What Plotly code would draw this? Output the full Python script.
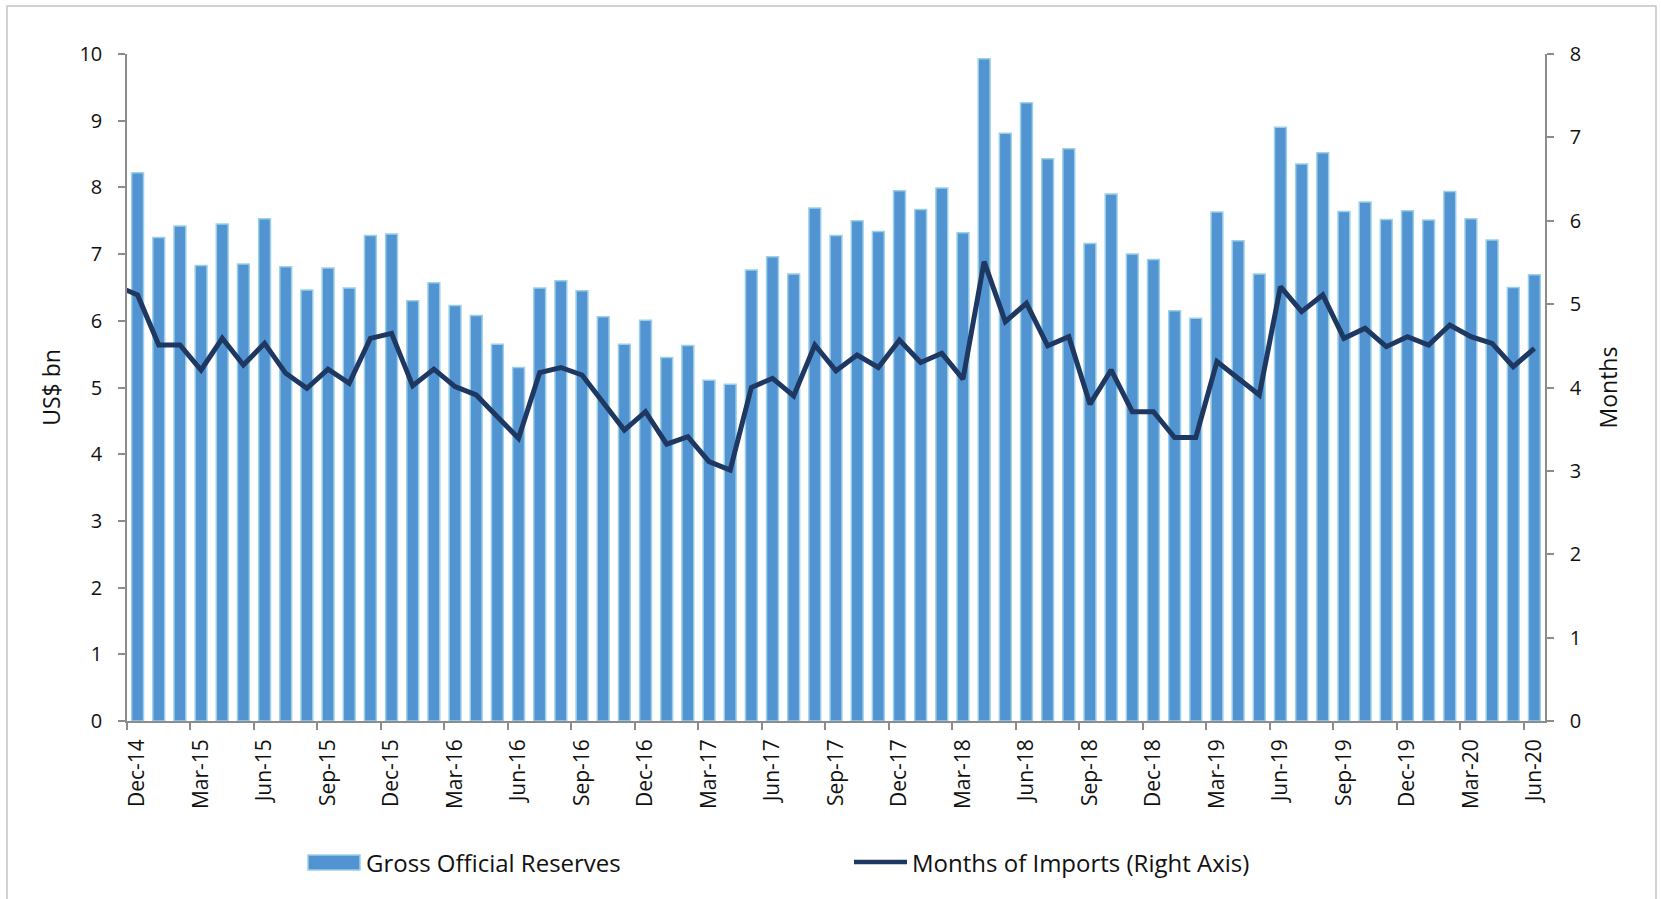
import pandas as pd
import plotly.graph_objects as go

# ---------------- data ----------------
months = [d.strftime("%b-%y") for d in pd.date_range("2014-12-01", "2020-06-01", freq="MS")]

reserves = [8.22, 7.25, 7.42, 6.83, 7.45, 6.85, 7.53, 6.81, 6.46, 6.79, 6.49, 7.28,
            7.30, 6.30, 6.57, 6.23, 6.08, 5.65, 5.30, 6.49, 6.60, 6.45, 6.06, 5.65,
            6.01, 5.45, 5.63, 5.11, 5.05, 6.76, 6.96, 6.70, 7.69, 7.28, 7.50, 7.34,
            7.95, 7.67, 7.99, 7.32, 9.93, 8.81, 9.27, 8.43, 8.58, 7.16, 7.90, 7.00,
            6.92, 6.15, 6.04, 7.63, 7.20, 6.70, 8.90, 8.35, 8.52, 7.64, 7.78, 7.52,
            7.65, 7.51, 7.94, 7.53, 7.21, 6.50, 6.69]

# import cover; first value is Nov-14 (just left of the visible axis)
import_months_prev = 5.22
import_months = [5.11, 4.51, 4.51, 4.21, 4.59, 4.27, 4.53, 4.17, 3.99, 4.22, 4.05, 4.59,
                 4.65, 4.02, 4.22, 4.01, 3.91, 3.65, 3.39, 4.18, 4.24, 4.15, 3.81, 3.49,
                 3.71, 3.32, 3.41, 3.11, 3.01, 4.00, 4.11, 3.90, 4.51, 4.20, 4.39, 4.24,
                 4.57, 4.30, 4.41, 4.10, 5.51, 4.79, 5.01, 4.50, 4.61, 3.80, 4.21, 3.71,
                 3.71, 3.40, 3.40, 4.31, 4.11, 3.91, 5.21, 4.91, 5.11, 4.59, 4.71, 4.49,
                 4.61, 4.51, 4.75, 4.61, 4.53, 4.25, 4.47]

label_step = 3
tick_idx = list(range(0, len(months), label_step))
tick_text = [months[i] for i in tick_idx]

# ---------------- style ----------------
W, H = 1661, 899
ML, MR, MT, MB = 127, 116, 54, 178
PW, PH = W - ML - MR, H - MT - MB
FONT = "Open Sans"
BAR_FILL = "#5294D2"
BAR_EDGE = "#9CD0E6"
LINE_COL = "#1F3862"
AXIS_COL = "#8C8C8C"
TICK_SIZE = 20


def px_x(p):
    return (p - ML) / PW


def px_y(p):
    return (H - MB - p) / PH


x_bar = list(range(len(months)))
x_line = [-1] + x_bar
y_line = [import_months_prev] + import_months

fig = go.Figure()
fig.add_trace(go.Bar(
    x=x_bar, y=reserves, name="Gross Official Reserves",
    marker=dict(color=BAR_FILL, line=dict(color=BAR_EDGE, width=1.5)),
    yaxis="y", showlegend=False,
))
fig.add_trace(go.Scatter(
    x=x_line, y=y_line, name="Months of Imports (Right Axis)", mode="lines",
    line=dict(color=LINE_COL, width=5), yaxis="y2", showlegend=False,
))

fig.update_layout(
    width=W, height=H,
    margin=dict(l=ML, r=MR, t=MT, b=MB, autoexpand=False),
    paper_bgcolor="white", plot_bgcolor="white",
    font=dict(family=FONT, size=TICK_SIZE, color="#111111"),
    bargap=0.44,
    xaxis=dict(
        range=[-0.5, len(months) - 0.5],
        tickmode="array", tickvals=tick_idx, ticktext=tick_text,
        tickangle=-90, ticks="", ticklabelstandoff=8,
        showline=True, linecolor=AXIS_COL, linewidth=1.5,
        showgrid=False, zeroline=False,
        minor=dict(ticks="outside", tickmode="linear", tick0=-0.5, dtick=label_step,
                   ticklen=7, tickwidth=1.5, tickcolor=AXIS_COL, showgrid=False),
        tickfont=dict(size=21),
    ),
    yaxis=dict(
        range=[0, 10], dtick=1, ticks="outside", ticklen=7, tickwidth=1.5,
        tickcolor=AXIS_COL, showline=True, linecolor=AXIS_COL, linewidth=1.5,
        showgrid=False, zeroline=False, ticklabelstandoff=12,
        title=dict(text="US$ bn", font=dict(size=23), standoff=12),
        tickfont=dict(size=TICK_SIZE),
    ),
    yaxis2=dict(
        range=[0, 8], dtick=1, overlaying="y", side="right",
        ticks="outside", ticklen=7, tickwidth=1.5, tickcolor=AXIS_COL,
        showline=True, linecolor=AXIS_COL, linewidth=1.5,
        showgrid=False, zeroline=False, ticklabelstandoff=12,
        title=dict(text="Months", font=dict(size=23), standoff=20),
        tickfont=dict(size=TICK_SIZE),
    ),
)

# outer chart frame
fig.add_shape(type="rect", xref="paper", yref="paper",
              x0=px_x(7), x1=px_x(1656), y0=px_y(910), y1=px_y(6),
              line=dict(color="#C4C4C4", width=1.5), fillcolor="rgba(0,0,0,0)", layer="below")

# legend (drawn below the plot)
leg_y = 862
fig.add_shape(type="rect", xref="paper", yref="paper",
              x0=px_x(308), x1=px_x(360), y0=px_y(870), y1=px_y(855),
              fillcolor=BAR_FILL, line=dict(color=BAR_EDGE, width=1.5))
fig.add_annotation(xref="paper", yref="paper", x=px_x(364), y=px_y(leg_y),
                   text="Gross Official Reserves", showarrow=False,
                   xanchor="left", yanchor="middle", font=dict(size=24, color="#111111"))
fig.add_shape(type="line", xref="paper", yref="paper",
              x0=px_x(854), x1=px_x(907), y0=px_y(leg_y), y1=px_y(leg_y),
              line=dict(color=LINE_COL, width=4.5))
fig.add_annotation(xref="paper", yref="paper", x=px_x(910), y=px_y(leg_y),
                   text="Months of Imports (Right Axis)", showarrow=False,
                   xanchor="left", yanchor="middle", font=dict(size=24, color="#111111"))

fig.write_html("out.html", config={"displayModeBar": False},
               post_script="document.body.style.margin='0px';")
